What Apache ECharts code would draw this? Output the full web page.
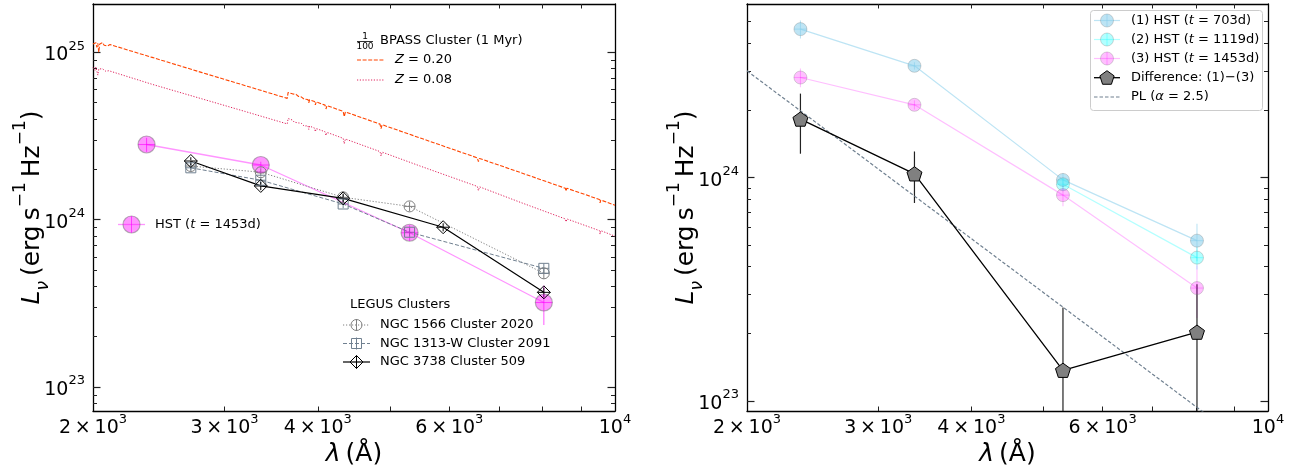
<!DOCTYPE html>
<html>
<head>
<meta charset="utf-8">
<script src="https://cdn.jsdelivr.net/npm/echarts@6/dist/echarts.min.js"></script>
<style>
html, body { margin: 0; padding: 0; background: #fff; }
#chart { width: 1299px; height: 470px; }
</style>
</head>
<body>
<div id="chart"></div>
<script>
// ---------- data ----------
// HST filter pivot wavelengths (Angstrom)
const hstWave = [2359, 3355, 5308, 8030];
// HST photometry, L_nu in erg s^-1 Hz^-1
const hst1Lum = [4.63e24, 3.17e24, 9.77e23, 5.22e23];   // t = 703 d
const hst1Err = [0.43e24, 0.12e24, 0.07e24, 1.0e23];
const hst2Wave = [5308, 8030];
const hst2Lum = [9.34e23, 4.38e23];                     // t = 1119 d
const hst2Err = [0.06e24, 0.5e23];
const hst3Lum = [2.81e24, 2.12e24, 8.35e23, 3.2e23];    // t = 1453 d
const hst3Err = [0.27e24, 0.10e24, 0.09e24, 0.85e23];
// difference (1) - (3)
const diffLum = [1.83e24, 1.04e24, 1.37e23, 2.03e23];
const diffErr = [0.55e24, 0.27e24, 1.25e23, 1.3e23];
// power law, alpha = 2.5
const plWave = [2000, 8300];
const plLum = [3.01e24, 8.6e22];

// LEGUS young clusters
const legusWave = [2704, 3355, 4325, 5308, 8030];
const ngc1566Lum = [2.09e24, 1.92e24, 1.36e24, 1.20e24, 4.78e23];
const ngc1566Err = [0.12e24, 0.10e24, 0.08e24, 0.08e24, 0.35e23];
const ngc1313Lum = [2.04e24, 1.72e24, 1.24e24, 8.41e23, 5.12e23];
const ngc1313Err = [0.11e24, 0.09e24, 0.07e24, 0.05e24, 0.35e23];
const ngc3738Wave = [2704, 3355, 4325, 5887, 8030];
const ngc3738Lum = [2.24e24, 1.59e24, 1.34e24, 9.01e23, 3.68e23];
const ngc3738Err = [0.12e24, 0.09e24, 0.08e24, 0.05e24, 0.25e23];

// BPASS 1 Myr cluster spectra scaled by 1/100: [wavelength, L_nu]
const bpassZ020 = [
  [2000, 1.12e25], [2006, 1.15e25], [2012, 1.10e25], [2018, 1.14e25], [2024, 1.07e25],
  [2030, 1.13e25], [2036, 1.00e25], [2042, 1.12e25], [2050, 1.09e25], [2060, 1.14e25],
  [2070, 1.10e25], [2080, 1.13e25], [2092, 1.09e25], [2108, 1.11e25],
  [2400, 9.31e24], [2800, 7.55e24], [3200, 6.31e24], [3640, 5.30e24], [3650, 5.75e24],
  [3700, 5.64e24], [3720, 5.50e24], [3740, 5.60e24], [3770, 5.44e24], [3800, 5.41e24],
  [3835, 5.24e24], [3850, 5.31e24], [3880, 5.22e24], [3890, 4.98e24], [3900, 5.20e24],
  [3960, 5.07e24], [3970, 4.84e24], [3980, 5.05e24], [4090, 4.83e24], [4102, 4.58e24],
  [4115, 4.80e24], [4325, 4.43e24], [4340, 4.12e24], [4355, 4.40e24], [4845, 3.72e24],
  [4861, 3.50e24], [4877, 3.69e24], [5500, 3.06e24], [6540, 2.34e24], [6563, 2.22e24],
  [6586, 2.32e24], [7500, 1.90e24], [8580, 1.54e24], [8600, 1.48e24], [8620, 1.54e24],
  [9530, 1.32e24], [9550, 1.26e24], [9570, 1.31e24], [10000, 1.22e24]
];
const bpassZ008 = [
  [2000, 8.10e24], [2006, 8.30e24], [2012, 7.80e24], [2018, 8.15e24], [2024, 7.70e24],
  [2030, 7.30e24], [2036, 7.95e24], [2048, 7.75e24], [2060, 7.95e24], [2080, 7.70e24],
  [2100, 7.75e24], [2400, 6.43e24],
  [2800, 5.26e24], [3200, 4.42e24], [3640, 3.73e24], [3650, 4.02e24], [3700, 3.93e24],
  [3720, 3.82e24], [3740, 3.90e24], [3770, 3.78e24], [3800, 3.77e24], [3835, 3.62e24],
  [3850, 3.68e24], [3880, 3.64e24], [3890, 3.46e24], [3900, 3.62e24], [3960, 3.52e24],
  [3970, 3.35e24], [3980, 3.50e24], [4090, 3.35e24], [4102, 3.18e24], [4115, 3.32e24],
  [4325, 3.06e24], [4340, 2.84e24], [4355, 3.03e24], [4845, 2.55e24], [4861, 2.40e24],
  [4877, 2.53e24], [5500, 2.08e24], [6540, 1.58e24], [6563, 1.49e24], [6586, 1.57e24],
  [7500, 1.26e24], [8580, 1.01e24], [8600, 0.97e24], [8620, 1.01e24], [9530, 0.86e24],
  [9550, 0.82e24], [9570, 0.86e24], [10000, 0.796e24]
];

// axis ranges and ticks
const xRange = [2000, 10000];
const yRangeLeft = [7.2e22, 1.94e25];
const yRangeRight = [9e22, 6e24];
const xLabelTicks = [2000, 3000, 4000, 6000, 10000];
const xMinorTicks = [3000, 4000, 5000, 6000, 7000, 8000, 9000];
const yMajorLeft = [1e23, 1e24, 1e25];
const yMinorLeft = [8e22, 9e22, 2e23, 3e23, 4e23, 5e23, 6e23, 7e23, 8e23, 9e23,
                    2e24, 3e24, 4e24, 5e24, 6e24, 7e24, 8e24, 9e24];
const yMajorRight = [1e23, 1e24];
const yMinorRight = [2e23, 3e23, 4e23, 5e23, 6e23, 7e23, 8e23, 9e23,
                     2e24, 3e24, 4e24, 5e24];

// ---------- styling helpers ----------
const FF = 'DejaVu Sans';
const pink = 'rgba(255,0,255,0.42)';
const pinkLight = 'rgba(255,0,255,0.25)';
const sky = 'rgba(135,206,235,0.55)';
const cyan = 'rgba(0,255,255,0.3)';
const edgeGrey = 'rgba(110,110,110,0.5)';
const edgeLight = 'rgba(120,120,120,0.3)';
const pentagonPath = 'path://M0,-10L9.51,-3.09L5.88,8.09L-5.88,8.09L-9.51,-3.09Z';

function sciLabel(v) {
  const e = Math.floor(Math.log10(v) + 1e-9);
  const m = Math.round(v / Math.pow(10, e));
  return m === 1 ? '{b|10}{s|' + e + '}' : '{b|' + m + '\u2009×\u200910}{s|' + e + '}';
}
const tickRich = {
  b: { fontFamily: FF, fontSize: 19, color: '#000', lineHeight: 25, verticalAlign: 'bottom' },
  s: { fontFamily: FF, fontSize: 13, color: '#000', lineHeight: 25, verticalAlign: 'top' }
};
const nameRich = {
  n: { fontFamily: FF, fontSize: 25, color: '#000', lineHeight: 40, verticalAlign: 'middle' },
  i: { fontFamily: FF, fontSize: 25, color: '#000', lineHeight: 40, verticalAlign: 'middle', fontStyle: 'italic' },
  sub: { fontFamily: FF, fontSize: 17, color: '#000', lineHeight: 40, verticalAlign: 'bottom', fontStyle: 'italic' },
  sup: { fontFamily: FF, fontSize: 17, color: '#000', lineHeight: 40, verticalAlign: 'top' }
};
const yName = '{i|L}{sub|ν}{n|\u2009(erg\u2009s}{sup|−1}{n|\u2009Hz}{sup|−1}{n|)}';
const xName = '{i|λ}{n|\u2009(Å)}';

const frameLine = { show: true, lineStyle: { color: '#000', width: 1.3 } };

function xAxes(grid) {
  const base = {
    type: 'log', logBase: 10, min: xRange[0], max: xRange[1], gridIndex: grid,
    axisLine: frameLine, splitLine: { show: false }, minorTick: { show: false },
    axisTick: { show: true, inside: true, length: 4.5, customValues: xMinorTicks,
                lineStyle: { color: '#222', width: 1 } }
  };
  return [
    Object.assign({}, base, {
      position: 'bottom',
      axisLabel: { show: true, customValues: xLabelTicks, formatter: sciLabel, rich: tickRich, margin: 2 },
      name: xName, nameLocation: 'middle', nameGap: 23, nameMoveOverlap: false,
      nameTextStyle: { rich: nameRich }
    }),
    Object.assign({}, base, { position: 'top', axisLabel: { show: false } })
  ];
}

function yAxes(grid, range, majors, minors) {
  const base = {
    type: 'log', logBase: 10, min: range[0], max: range[1], gridIndex: grid,
    splitLine: { show: false }, minorTick: { show: false }
  };
  const major = { show: true, inside: true, length: 7.5, customValues: majors,
                  lineStyle: { color: '#222', width: 1.2 } };
  const minor = { show: true, inside: true, length: 4, customValues: minors,
                  lineStyle: { color: '#222', width: 1 } };
  return [
    Object.assign({}, base, {
      position: 'left', axisLine: frameLine, axisTick: major,
      axisLabel: { show: true, customValues: majors, formatter: sciLabel, rich: tickRich, margin: 8 },
      name: yName, nameLocation: 'middle', nameRotate: 90, nameGap: 41, nameMoveOverlap: false,
      nameTextStyle: { rich: nameRich }
    }),
    Object.assign({}, base, { position: 'left', axisLine: { show: false }, axisTick: minor, axisLabel: { show: false } }),
    Object.assign({}, base, { position: 'right', axisLine: frameLine, axisTick: major, axisLabel: { show: false } }),
    Object.assign({}, base, { position: 'right', axisLine: { show: false }, axisTick: minor, axisLabel: { show: false } })
  ];
}

// vertical error bars with a short horizontal arm through each point
function errSeries(xi, yi, wave, lum, err, color, arm, width, floor) {
  return {
    type: 'custom', xAxisIndex: xi, yAxisIndex: yi, clip: true, silent: true,
    data: wave.map((w, k) => [w, lum[k], err[k]]),
    encode: { x: 0, y: 1 },
    renderItem: function (params, api) {
      const x = api.value(0), y = api.value(1), e = api.value(2);
      const top = api.coord([x, y + e]);
      const bot = api.coord([x, Math.max(y - e, floor)]);
      const c = api.coord([x, y]);
      const st = { stroke: color, lineWidth: width };
      const kids = [{ type: 'line', shape: { x1: top[0], y1: top[1], x2: bot[0], y2: bot[1] }, style: st }];
      if (arm > 0) kids.push({ type: 'line', shape: { x1: c[0] - arm, y1: c[1], x2: c[0] + arm, y2: c[1] }, style: st });
      return { type: 'group', children: kids };
    }
  };
}
function pairs(wave, lum) { return wave.map((w, k) => [w, lum[k]]); }
function lineSeries(xi, yi, data, o) {
  return Object.assign({
    type: 'line', xAxisIndex: xi, yAxisIndex: yi, data: data, silent: true,
    emphasis: { disabled: true }, clip: true
  }, o);
}

// ---------- legend glyphs ----------
const legRich = {
  i: { fontFamily: FF, fontSize: 13, fontStyle: 'italic', color: '#000' }
};
function label(x, y, text, size) {
  return { type: 'text', x: x, y: y, silent: true, z: 100,
    style: { text: text, rich: legRich, fontFamily: FF, fontSize: size || 13, fill: '#000',
             align: 'left', verticalAlign: 'middle' } };
}
function seg(x1, y1, x2, y2, stroke, w, dash) {
  return { type: 'line', silent: true, z: 100, shape: { x1: x1, y1: y1, x2: x2, y2: y2 },
    style: { stroke: stroke, lineWidth: w, lineDash: dash || null } };
}
function circ(cx, cy, r, fill, stroke, w) {
  return { type: 'circle', silent: true, z: 100, shape: { cx: cx, cy: cy, r: r },
    style: { fill: fill, stroke: stroke, lineWidth: w } };
}
function poly(points, fill, stroke, w) {
  return { type: 'polygon', silent: true, z: 100, shape: { points: points },
    style: { fill: fill, stroke: stroke, lineWidth: w } };
}
function pentagon(cx, cy, r) {
  const pts = [];
  for (let k = 0; k < 5; k++) {
    const a = -Math.PI / 2 + k * 2 * Math.PI / 5;
    pts.push([cx + r * Math.cos(a), cy + r * Math.sin(a)]);
  }
  return pts;
}

const graphics = [];
// left: HST legend entry
graphics.push(seg(118, 224.5, 145, 224.5, pink, 1.3));
graphics.push(circ(131.5, 224.5, 8.5, pink, edgeGrey, 1.2));
graphics.push(seg(131.5, 216, 131.5, 233, 'rgba(255,0,255,0.6)', 1));
graphics.push(label(155, 224.5, 'HST ({i|t} = 1453d)'));

// left: BPASS legend
graphics.push({ type: 'text', x: 365, y: 36.5, silent: true, z: 100,
  style: { text: '1', fontFamily: FF, fontSize: 9, fill: '#000', align: 'center', verticalAlign: 'middle' } });
graphics.push(seg(357, 41.5, 373, 41.5, '#000', 0.8));
graphics.push({ type: 'text', x: 365, y: 46.5, silent: true, z: 100,
  style: { text: '100', fontFamily: FF, fontSize: 9, fill: '#000', align: 'center', verticalAlign: 'middle' } });
graphics.push(label(380, 40.5, 'BPASS Cluster (1 Myr)'));
graphics.push(seg(357, 60, 385, 60, '#ff4500', 1.1, [4, 1.6]));
graphics.push(label(395, 60, '{i|Z} = 0.20'));
graphics.push(seg(357, 80, 385, 80, '#e0245e', 1, [1.2, 1.6]));
graphics.push(label(395, 80, '{i|Z} = 0.08'));

// left: LEGUS legend
graphics.push(label(350, 305, 'LEGUS Clusters'));
graphics.push(seg(343, 325, 370, 325, '#808080', 1, [1.2, 1.8]));
graphics.push(circ(356.5, 325, 5.5, 'rgba(255,255,255,0)', '#808080', 1));
graphics.push(seg(356.5, 319, 356.5, 331, '#808080', 1));
graphics.push(label(380, 325, 'NGC 1566 Cluster 2020'));
graphics.push(seg(343, 343.5, 370, 343.5, '#708090', 1, [4, 2]));
graphics.push({ type: 'rect', silent: true, z: 100, shape: { x: 351.5, y: 338.5, width: 10, height: 10 },
  style: { fill: 'rgba(255,255,255,0)', stroke: '#708090', lineWidth: 1 } });
graphics.push(seg(356.5, 337.5, 356.5, 349.5, '#708090', 1));
graphics.push(label(380, 343.5, 'NGC 1313-W Cluster 2091'));
graphics.push(seg(343, 362, 370, 362, '#000', 1.2));
graphics.push(poly([[356.5, 355.5], [363, 362], [356.5, 368.5], [350, 362]], 'rgba(255,255,255,0)', '#000', 1));
graphics.push(seg(356.5, 355.5, 356.5, 368.5, '#000', 1));
graphics.push(label(380, 362, 'NGC 3738 Cluster 509'));

// right: framed legend
graphics.push({ type: 'rect', silent: true, z: 99,
  shape: { x: 1090.5, y: 10.5, width: 172, height: 100, r: 3 },
  style: { fill: 'rgba(255,255,255,0.85)', stroke: '#cccccc', lineWidth: 1 } });
const rl = [
  { y: 20.5, col: sky, text: '(1) HST ({i|t} = 703d)' },
  { y: 39.5, col: cyan, text: '(2) HST ({i|t} = 1119d)' },
  { y: 58.5, col: pinkLight, text: '(3) HST ({i|t} = 1453d)' }
];
rl.forEach(function (r) {
  graphics.push(seg(1094, r.y, 1120, r.y, r.col, 1.2));
  graphics.push(circ(1107, r.y, 6.5, r.col, edgeLight, 1));
  graphics.push(seg(1107, r.y - 6.5, 1107, r.y + 6.5, r.col, 1));
  graphics.push(label(1131, r.y, r.text));
});
graphics.push(seg(1094, 77.7, 1120, 77.7, '#000', 1.3));
graphics.push(poly(pentagon(1107, 78.2, 7.5), '#808080', '#000', 1));
graphics.push(label(1131, 77.7, 'Difference: (1)\u2212(3)'));
graphics.push(seg(1094, 97, 1120, 97, '#708090', 1.2, [3.5, 2]));
graphics.push(label(1131, 97, 'PL ({i|α} = 2.5)'));

// ---------- chart ----------
const LF = yRangeLeft[0] * 0.5, RF = yRangeRight[0] * 0.5;
const series = [
  // left panel (axes 0 / 0)
  lineSeries(0, 0, bpassZ020, { symbol: 'none', lineStyle: { color: '#ff4500', width: 1.1, type: [4, 1.6] } }),
  lineSeries(0, 0, bpassZ008, { symbol: 'none', lineStyle: { color: '#e0245e', width: 1, type: [1.2, 1.6] } }),
  errSeries(0, 0, hstWave, hst3Lum, hst3Err, 'rgba(255,0,255,0.6)', 8.5, 1.1, LF),
  lineSeries(0, 0, pairs(hstWave, hst3Lum), { symbol: 'circle', symbolSize: 17,
    itemStyle: { color: pink, borderColor: edgeGrey, borderWidth: 1.2 },
    lineStyle: { color: pink, width: 1.3 } }),
  errSeries(0, 0, legusWave, ngc1566Lum, ngc1566Err, '#808080', 5.5, 1, LF),
  lineSeries(0, 0, pairs(legusWave, ngc1566Lum), { symbol: 'circle', symbolSize: 11,
    itemStyle: { color: 'rgba(255,255,255,0)', borderColor: '#808080', borderWidth: 1 },
    lineStyle: { color: '#808080', width: 1, type: [1.2, 1.8] } }),
  errSeries(0, 0, legusWave, ngc1313Lum, ngc1313Err, '#708090', 5, 1, LF),
  lineSeries(0, 0, pairs(legusWave, ngc1313Lum), { symbol: 'rect', symbolSize: 10,
    itemStyle: { color: 'rgba(255,255,255,0)', borderColor: '#708090', borderWidth: 1 },
    lineStyle: { color: '#708090', width: 1, type: [4, 2] } }),
  errSeries(0, 0, ngc3738Wave, ngc3738Lum, ngc3738Err, '#000', 6.5, 1, LF),
  lineSeries(0, 0, pairs(ngc3738Wave, ngc3738Lum), { symbol: 'diamond', symbolSize: 13,
    itemStyle: { color: 'rgba(255,255,255,0)', borderColor: '#000', borderWidth: 1 },
    lineStyle: { color: '#000', width: 1.2 } }),

  // right panel (axes 2 / 4)
  lineSeries(2, 4, pairs(plWave, plLum), { symbol: 'none', lineStyle: { color: '#708090', width: 1.2, type: [3.5, 2] } }),
  errSeries(2, 4, hstWave, hst1Lum, hst1Err, sky, 6.5, 1.1, RF),
  lineSeries(2, 4, pairs(hstWave, hst1Lum), { symbol: 'circle', symbolSize: 13,
    itemStyle: { color: sky, borderColor: edgeLight, borderWidth: 1 },
    lineStyle: { color: sky, width: 1.2 } }),
  errSeries(2, 4, hst2Wave, hst2Lum, hst2Err, cyan, 6.5, 1.1, RF),
  lineSeries(2, 4, pairs(hst2Wave, hst2Lum), { symbol: 'circle', symbolSize: 13,
    itemStyle: { color: cyan, borderColor: edgeLight, borderWidth: 1 },
    lineStyle: { color: cyan, width: 1.2 } }),
  errSeries(2, 4, hstWave, hst3Lum, hst3Err, pinkLight, 6.5, 1.1, RF),
  lineSeries(2, 4, pairs(hstWave, hst3Lum), { symbol: 'circle', symbolSize: 13,
    itemStyle: { color: pinkLight, borderColor: edgeLight, borderWidth: 1 },
    lineStyle: { color: pinkLight, width: 1.2 } }),
  errSeries(2, 4, hstWave, diffLum, diffErr, '#222', 0, 1.2, RF),
  lineSeries(2, 4, pairs(hstWave, diffLum), { symbol: pentagonPath, symbolSize: 15, symbolKeepAspect: true,
    itemStyle: { color: '#808080', borderColor: '#000', borderWidth: 1 },
    lineStyle: { color: '#000', width: 1.3 } })
];

const chart = echarts.init(document.getElementById('chart'), null, { renderer: 'canvas' });
chart.setOption({
  animation: false,
  backgroundColor: '#fff',
  textStyle: { fontFamily: FF },
  grid: [
    { left: 93, top: 4, width: 522, height: 407, containLabel: false, outerBoundsMode: 'none' },
    { left: 747, top: 4, width: 521, height: 407, containLabel: false, outerBoundsMode: 'none' }
  ],
  xAxis: xAxes(0).concat(xAxes(1)),
  yAxis: yAxes(0, yRangeLeft, yMajorLeft, yMinorLeft).concat(yAxes(1, yRangeRight, yMajorRight, yMinorRight)),
  series: series,
  graphic: graphics
});
</script>
</body>
</html>
